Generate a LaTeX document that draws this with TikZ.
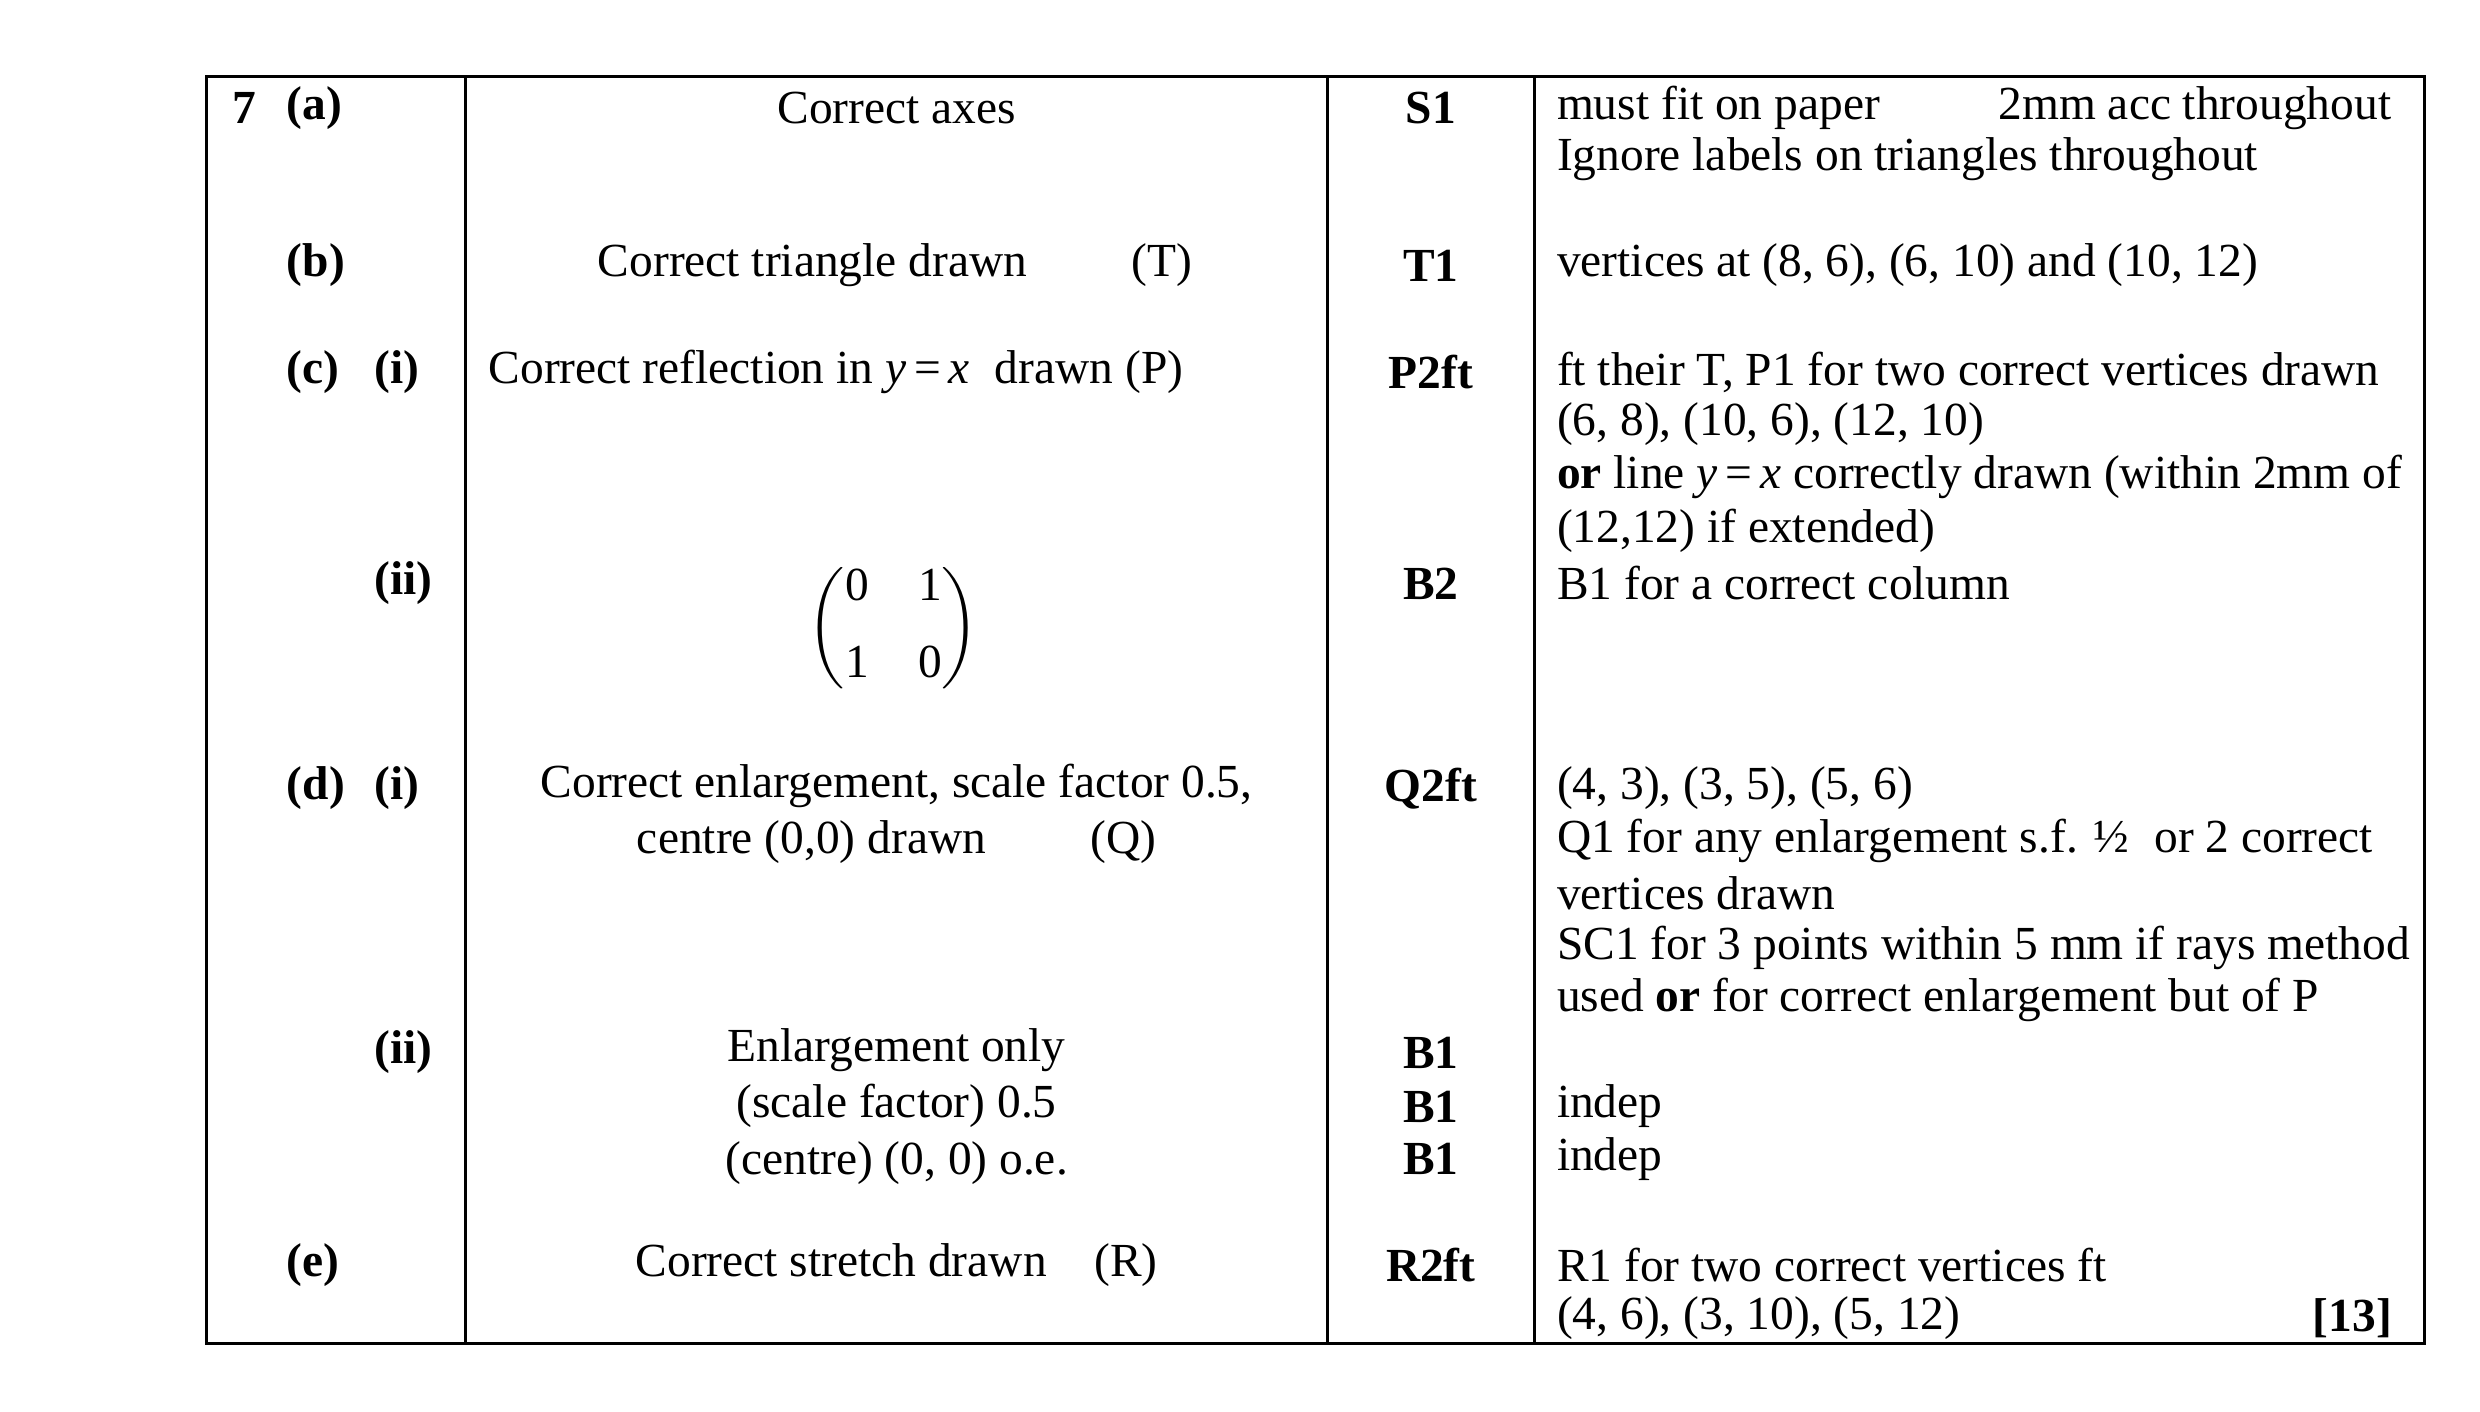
\documentclass[tikz,border=0pt]{standalone}
\usepackage{amsmath}
\usepackage{fontspec}
\setmainfont{Liberation Serif}
\newcommand{\yx}{\textit{y}\,=\,\textit{x}}
\begin{document}
\begin{tikzpicture}[x=0.0159cm, y=-0.0159cm,
    every node/.style={font=\fontsize{13.5}{16}\selectfont, inner sep=0pt},
    part/.style={anchor=west, font=\fontsize{13.5}{16}\selectfont\bfseries},
    mid/.style={anchor=center, align=center},
    score/.style={anchor=center, font=\fontsize{13.5}{16}\selectfont\bfseries},
    note/.style={anchor=west}]

\useasboundingbox (0,0) rectangle (1560,888);

% grid
\draw[line width=0.8pt] (130,48) rectangle (1525,845);
\foreach \x in {293,835,965}
    \draw[line width=0.8pt] (\x,48) -- (\x,845);

% part labels
\node[part] (q7) at (146,68) {7};
\node[part] (pa) at (180,68) {(a)};
\node[part] (pb) at (180,167) {(b)};
\node[part] (pc) at (180,234) {(c)};
\node[part] (pci) at (235,234) {(i)};
\node[part] (pcii) at (235,367) {(ii)};
\node[part] (pd) at (180,496) {(d)};
\node[part] (pdi) at (235,496) {(i)};
\node[part] (pdii) at (235,662) {(ii)};
\node[part] (pe) at (180,796) {(e)};

% answers
\node[mid] (axes) at (564,68) {Correct axes};
\node[mid] (tri) at (563,167) {Correct triangle drawn\hspace{2.2em}(T)};
\node[anchor=west] (refl) at (307,234) {Correct reflection in \yx\;\ drawn (P)};
\node[mid] (matrix) at (562,395) {$\begin{pmatrix}\text{0} & \;\text{1}\\[6pt] \text{1} & \;\text{0}\end{pmatrix}$};
\node[mid] (enl) at (564,512) {Correct enlargement, scale factor 0.5,\\centre (0,0) drawn\hspace{2.2em}(Q)};
\node[mid] (only) at (564,696) {Enlargement only\\(scale factor) 0.5\\(centre) (0, 0) o.e.};
\node[mid] (str) at (564,796) {Correct stretch drawn\hspace{1em}(R)};

% marks
\node[score] (m1) at (900,68) {S1};
\node[score] (m2) at (900,167) {T1};
\node[score] (m3) at (900,234) {P2ft};
\node[score] (m4) at (900,367) {B2};
\node[score] (m5) at (900,496) {Q2ft};
\node[score] (m6) at (900,662) {B1};
\node[score] (m7) at (900,696) {B1};
\node[score] (m8) at (900,729) {B1};
\node[score] (m9) at (900,796) {R2ft};

% guidance
\node[note] (g1) at (979,68) {must fit on paper\hspace{2.5em}2mm acc throughout};
\node[note] (g2) at (979,100) {Ignore labels on triangles throughout};
\node[note] (g3) at (979,167) {vertices at (8, 6), (6, 10) and (10, 12)};
\node[note] (g4) at (979,234) {ft their T, P1 for two correct vertices drawn};
\node[note] (g5) at (979,267) {(6, 8), (10, 6), (12, 10)};
\node[note] (g6) at (979,300) {\textbf{or} line \yx\ correctly drawn (within 2mm of};
\node[note] (g7) at (979,334) {(12,12) if extended)};
\node[note] (g8) at (979,367) {B1 for a correct column};
\node[note] (g9) at (979,496) {(4, 3), (3, 5), (5, 6)};
\node[note] (g10) at (979,529) {Q1 for any enlargement s.f. ½\; or 2 correct};
\node[note] (g11) at (979,562) {vertices drawn};
\node[note] (g12) at (979,596) {SC1 for 3 points within 5 mm if rays method};
\node[note] (g13) at (979,629) {used \textbf{or} for correct enlargement but of P};
\node[note] (g14) at (979,696) {indep};
\node[note] (g15) at (979,729) {indep};
\node[note] (g16) at (979,796) {R1 for two correct vertices ft};
\node[note] (g17) at (979,829) {(4, 6), (3, 10), (5, 12)};
\node[anchor=east, font=\fontsize{13.5}{16}\selectfont\bfseries] (total) at (1505,829) {[13]};
\end{tikzpicture}
\end{document}
